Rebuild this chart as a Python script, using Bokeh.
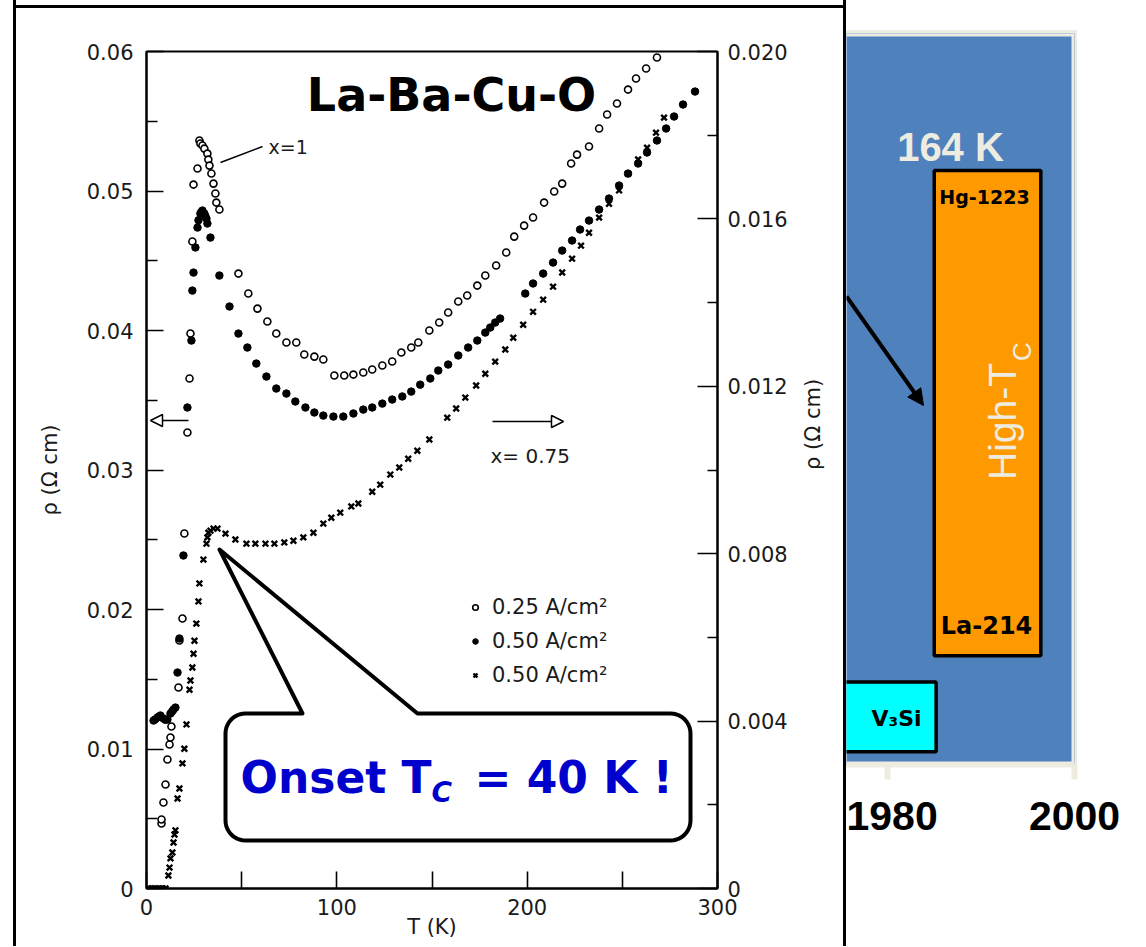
import math
from bokeh.plotting import figure
from bokeh.models import (Range1d, LinearAxis, FixedTicker, Label, Arrow, NormalHead,
                          BoxAnnotation, Legend, LegendItem, NumeralTickFormatter,
                          ColumnDataSource)
from bokeh.layouts import row
from bokeh.embed import file_html
from bokeh.resources import INLINE

# ---------------- data ----------------
# x = 1, 0.25 A/cm^2 (open circles, left scale): (T [K], rho [Ohm cm])
open_025 = [(7.9, 0.00466), (7.9, 0.00495), (8.9, 0.00616), (10.0, 0.00745), (11.0, 0.00925),
            (12.1, 0.01032), (12.6, 0.01082), (13.1, 0.01161), (16.8, 0.01441), (17.3, 0.01778),
            (18.9, 0.01935), (19.9, 0.02545), (21.5, 0.03269), (22.6, 0.03656), (23.1, 0.03978),
            (24.1, 0.04638), (24.7, 0.05046), (26.8, 0.05161), (27.8, 0.05362), (28.3, 0.05340),
            (29.4, 0.05326), (30.4, 0.05304), (32.0, 0.05268), (32.5, 0.05225), (33.1, 0.05182),
            (34.1, 0.05125), (35.2, 0.05053), (36.2, 0.04982), (36.7, 0.04917), (38.3, 0.04867),
            (48.3, 0.04408), (53.5, 0.04265), (58.3, 0.04157), (63.5, 0.04064), (68.2, 0.03978),
            (73.5, 0.03914), (78.7, 0.03914), (82.9, 0.03828), (88.2, 0.03813), (92.9, 0.03792),
            (98.7, 0.03677), (103.9, 0.03677), (108.7, 0.03684), (113.9, 0.03699), (118.6, 0.03720),
            (123.9, 0.03749), (129.1, 0.03778), (133.9, 0.03842), (139.1, 0.03878), (142.8, 0.03914),
            (148.6, 0.04000), (153.8, 0.04057), (158.5, 0.04129), (163.8, 0.04208), (168.5, 0.04251),
            (173.8, 0.04322), (178.0, 0.04394), (183.7, 0.04466), (189.0, 0.04559), (193.2, 0.04673),
            (198.4, 0.04752), (203.1, 0.04810), (208.9, 0.04917), (214.2, 0.04996), (218.4, 0.05053),
            (223.1, 0.05197), (226.2, 0.05261), (232.5, 0.05319), (237.8, 0.05448), (242.0, 0.05548),
            (247.2, 0.05627), (253.0, 0.05727), (257.2, 0.05806), (262.5, 0.05878), (268.2, 0.05957)]

# x = 1, 0.50 A/cm^2 (filled circles, left scale)
filled_050 = [(3.7, 0.01204), (4.5, 0.01212), (5.8, 0.01226), (6.5, 0.01232), (7.3, 0.01240),
              (8.9, 0.01219), (9.8, 0.01210), (11.0, 0.01211), (12.6, 0.01254), (13.5, 0.01270),
              (14.2, 0.01283), (15.2, 0.01297), (16.3, 0.01548), (17.3, 0.01792), (19.4, 0.02387),
              (21.5, 0.03448), (23.6, 0.03928), (24.1, 0.04286), (24.7, 0.04415), (25.7, 0.04595),
              (26.8, 0.04738), (27.3, 0.04790), (28.3, 0.04838), (28.8, 0.04850), (29.4, 0.04860),
              (30.4, 0.04838), (30.9, 0.04820), (31.5, 0.04802), (32.0, 0.04767), (33.6, 0.04666),
              (38.3, 0.04394), (43.6, 0.04172), (48.3, 0.03978), (53.0, 0.03878), (57.7, 0.03763),
              (63.0, 0.03670), (68.2, 0.03584), (73.5, 0.03548), (78.2, 0.03491), (83.5, 0.03448),
              (88.2, 0.03412), (92.9, 0.03390), (98.2, 0.03383), (103.4, 0.03383), (108.7, 0.03405),
              (113.9, 0.03433), (118.6, 0.03448), (123.9, 0.03476), (129.1, 0.03505), (134.4, 0.03527),
              (139.1, 0.03562), (143.8, 0.03612), (149.1, 0.03656), (153.3, 0.03713), (158.5, 0.03756),
              (163.8, 0.03821), (169.0, 0.03878), (173.8, 0.03928), (178.0, 0.03985), (180.6, 0.04021),
              (183.2, 0.04057), (185.8, 0.04086), (199.0, 0.04265), (203.1, 0.04337), (208.4, 0.04408),
              (213.6, 0.04487), (218.4, 0.04573), (223.6, 0.04645), (227.8, 0.04724), (232.5, 0.04788),
              (237.8, 0.04867), (243.0, 0.04946), (248.3, 0.05039), (253.0, 0.05125), (258.3, 0.05197),
              (263.0, 0.05276), (268.2, 0.05362), (273.0, 0.05448), (277.2, 0.05534), (281.9, 0.05620),
              (288.2, 0.05713)]

# x = 0.75, 0.50 A/cm^2 (crosses, right scale)
cross_075 = [(1.0, 0.0), (2.5, 0.0), (4.0, 0.0), (5.5, 0.0), (7.0, 0.0), (8.5, 0.0), (10.0, 0.0),
             (11.5, 0.00031), (12.1, 0.00050), (12.6, 0.00072), (13.6, 0.00086), (14.2, 0.00110),
             (14.7, 0.00129), (15.2, 0.00139), (16.3, 0.00215), (17.3, 0.00239), (18.9, 0.00299),
             (19.9, 0.00334), (21.0, 0.00392), (22.6, 0.00475), (23.1, 0.00497), (24.1, 0.00528),
             (24.7, 0.00561), (25.2, 0.00592), (26.2, 0.00633), (27.3, 0.00686), (27.8, 0.00729),
             (29.9, 0.00786), (31.5, 0.00824), (32.0, 0.00839), (32.5, 0.00850), (33.6, 0.00855),
             (35.2, 0.00860), (37.3, 0.00860), (41.5, 0.00848), (46.7, 0.00834), (52.5, 0.00824),
             (57.2, 0.00824), (62.5, 0.00824), (67.2, 0.00824), (72.4, 0.00827), (77.2, 0.00831),
             (82.4, 0.00839), (87.7, 0.00850), (92.9, 0.00872), (97.1, 0.00886), (101.8, 0.00898),
             (107.6, 0.00913), (111.3, 0.00920), (118.6, 0.00948), (122.8, 0.00965), (128.1, 0.00989),
             (132.8, 0.01006), (137.5, 0.01027), (142.3, 0.01046), (148.6, 0.01073), (158.0, 0.01125),
             (162.7, 0.01147), (167.5, 0.01173), (173.2, 0.01202), (178.0, 0.01230), (183.2, 0.01259),
             (188.5, 0.01288), (192.7, 0.01316), (197.9, 0.01347), (203.1, 0.01378), (208.4, 0.01407),
             (213.6, 0.01438), (218.4, 0.01472), (223.6, 0.01505), (228.3, 0.01536), (232.5, 0.01567),
             (237.8, 0.01603), (243.0, 0.01636), (248.3, 0.01668), (253.0, 0.01708), (258.3, 0.01742),
             (263.0, 0.01770), (267.7, 0.01806), (271.9, 0.01842)]

legend_labels = ["0.25 A/cm\u00b2", "0.50 A/cm\u00b2", "0.50 A/cm\u00b2"]

t_ticks = [0, 100, 200, 300]
t_minor = [50, 150, 250]
left_ticks = [0, 0.01, 0.02, 0.03, 0.04, 0.05, 0.06]
left_minor = [0.005, 0.015, 0.025, 0.035, 0.045, 0.055]
right_ticks = [0, 0.004, 0.008, 0.012, 0.016, 0.020]
right_minor = [0.002, 0.006, 0.010, 0.014, 0.018]

# timeline panel (year vs Tc in K)
bar_names = ["V\u2083Si", "High-Tc"]
bar_year_start = [1954.0, 1985.0]
bar_year_end = [1985.2, 1996.4]
bar_tc_low = [3.5, 30.0]
bar_tc_high = [22.8, 164.0]
bar_colors = ["#00FFFF", "#FF9900"]
year_ticks = [1980, 2000]

# ---------------- helpers: picture pixel -> data units (annotations only) -------------
def fx(px):
    return (px - 146) * 300.0 / 571.0

def fy(py):
    return (888 - py) * 0.06 / 837.0

def gx(px):
    return 1980 + (px - 887) / 9.35

def gy(py):
    return (764 - py) / 3.622

FONT = "DejaVu Sans"
H = 946
W1 = 846
W2 = 294

# ---------------- main figure ----------------
p = figure(width=W1, height=H, output_backend="svg", toolbar_location=None,
           x_range=Range1d(0, 300), y_range=Range1d(0, 0.06),
           min_border_left=146, min_border_right=W1 - 717, min_border_top=51,
           min_border_bottom=H - 888)
if "frame_align" in p.properties():
    p.frame_align = False
p.extra_y_ranges = {"right": Range1d(0, 0.02)}
p.grid.visible = False
p.outline_line_color = "black"
p.outline_line_width = 2
p.background_fill_color = "white"
p.border_fill_color = None
# black frame of the inset picture (left, top, right) painted behind the transparent canvas border
p.styles = {
    "background-image": "linear-gradient(#000,#000), linear-gradient(#000,#000), linear-gradient(#000,#000)",
    "background-position": "13px 0px, 13px 5px, 843px 0px",
    "background-size": "3px 100%, 833px 3px, 3px 100%",
    "background-repeat": "no-repeat",
}

xa = p.xaxis[0]
xa.ticker = FixedTicker(ticks=t_ticks, minor_ticks=t_minor)
ya = p.yaxis[0]
ya.ticker = FixedTicker(ticks=left_ticks, minor_ticks=left_minor)
ya.formatter = NumeralTickFormatter(format="0.00")
ya.major_label_overrides = {0: "0"}
ra = LinearAxis(y_range_name="right")
ra.ticker = FixedTicker(ticks=right_ticks, minor_ticks=right_minor)
ra.formatter = NumeralTickFormatter(format="0.000")
ra.major_label_overrides = {0: "0"}
p.add_layout(ra, "right")

for ax in (xa, ya, ra):
    ax.axis_line_color = "black"
    ax.axis_line_width = 2
    ax.major_tick_line_color = "black"
    ax.minor_tick_line_color = "black"
    ax.major_tick_line_width = 1.6
    ax.minor_tick_line_width = 1.6
    ax.major_tick_out = 0
    ax.minor_tick_out = 0
    ax.major_label_text_font = FONT
    ax.major_label_text_font_size = "21px"
    ax.major_label_text_color = "#1a1a1a"
    ax.axis_label_text_font = FONT
    ax.axis_label_text_font_size = "21px"
    ax.axis_label_text_font_style = "normal"
    ax.axis_label_text_color = "#1a1a1a"

xa.major_tick_in = 17
xa.minor_tick_in = 17
xa.major_label_standoff = 10
xa.axis_label = "T (K)"
xa.axis_label_standoff = -3

ya.major_tick_in = 17
ya.minor_tick_in = 11
ya.major_label_standoff = 13
ya.axis_label = "\u03c1 (\u03a9 cm)"
ya.axis_label_standoff = 22

ra.major_tick_in = 20
ra.minor_tick_in = 10
ra.major_label_standoff = 10
ra.axis_label = "\u03c1 (\u03a9 cm)"
ra.axis_label_standoff = 22
if "axis_label_orientation" in ra.properties():
    ra.axis_label_orientation = math.pi / 2   # read bottom-to-top like the left label

r_open = p.scatter([d[0] for d in open_025], [d[1] for d in open_025], marker="circle", size=7,
                   fill_color="white", line_color="black", line_width=1.6)
r_fill = p.scatter([d[0] for d in filled_050], [d[1] for d in filled_050], marker="circle", size=7.5,
                   fill_color="black", line_color="black", line_width=1)
r_cross = p.scatter([d[0] for d in cross_075], [d[1] for d in cross_075], marker="x", size=8,
                    line_color="black", line_width=2.4, y_range_name="right")

legend = Legend(items=[LegendItem(label=legend_labels[0], renderers=[r_open]),
                       LegendItem(label=legend_labels[1], renderers=[r_fill]),
                       LegendItem(label=legend_labels[2], renderers=[r_cross])],
                location=(322, 198), padding=0, margin=0, spacing=4,
                glyph_width=14, glyph_height=30, label_height=30, label_standoff=10,
                label_text_font=FONT, label_text_font_size="21px", label_text_color="#1a1a1a",
                border_line_color=None, background_fill_alpha=0)
p.add_layout(legend)

# text annotations of the original figure
p.add_layout(Label(x=fx(451), y=fy(94), text="La-Ba-Cu-O", text_align="center", text_baseline="middle",
                   text_font=FONT, text_font_style="bold", text_font_size="46px", text_color="black"))
p.add_layout(Label(x=fx(268), y=fy(146), text="x=1", text_align="left", text_baseline="middle",
                   text_font=FONT, text_font_size="19px", text_color="#1a1a1a"))
p.line([fx(220), fx(262)], [fy(162), fy(146)], line_color="black", line_width=1.5)
p.add_layout(Label(x=fx(490), y=fy(455), text="x= 0.75", text_align="left", text_baseline="middle",
                   text_font=FONT, text_font_size="20px", text_color="#1a1a1a"))
p.add_layout(Arrow(end=NormalHead(size=12, fill_color="white", line_color="black", line_width=1.5),
                   x_start=fx(188), y_start=fy(420), x_end=fx(150), y_end=fy(420),
                   line_color="black", line_width=1.5))
p.add_layout(Arrow(end=NormalHead(size=12, fill_color="white", line_color="black", line_width=1.5),
                   x_start=fx(492), y_start=fy(421), x_end=fx(563), y_end=fy(421),
                   line_color="black", line_width=1.5))

# callout bubble
def callout(L, R, T, B, r, base_l, base_r, tip, n=10):
    pts = [base_l, tip, base_r, (R - r, T)]
    def arc(cx, cy, a0, a1):
        return [(cx + r * math.cos(a0 + (a1 - a0) * i / n), cy + r * math.sin(a0 + (a1 - a0) * i / n))
                for i in range(n + 1)]
    pts += arc(R - r, T + r, -math.pi / 2, 0)
    pts += arc(R - r, B - r, 0, math.pi / 2)
    pts += arc(L + r, B - r, math.pi / 2, math.pi)
    pts += arc(L + r, T + r, math.pi, 1.5 * math.pi)
    return pts

bub = callout(225, 690, 713, 840, 20, (302, 713), (417, 713), (219, 549))
p.patch([fx(a) for a, b in bub], [fy(b) for a, b in bub], fill_color="white",
        line_color="black", line_width=4, line_join="round")

BLUE = "#0000CC"
p.add_layout(Label(x=fx(240), y=fy(777), text="Onset T", text_align="left", text_baseline="middle",
                   text_font=FONT, text_font_style="bold", text_font_size="44px", text_color=BLUE))
p.add_layout(Label(x=fx(431), y=fy(792), text="C", text_align="left", text_baseline="middle",
                   text_font=FONT, text_font_style="bold italic", text_font_size="28px", text_color=BLUE))
p.add_layout(Label(x=fx(474), y=fy(777), text="= 40 K !", text_align="left", text_baseline="middle",
                   text_font=FONT, text_font_style="bold", text_font_size="44px", text_color=BLUE))

# ---------------- timeline panel ----------------
GREY = "#EEECE1"
p2 = figure(width=W2, height=H, output_backend="svg", toolbar_location=None,
            x_range=Range1d(gx(846), gx(1074)), y_range=Range1d(0, gy(33)),
            min_border_left=0, min_border_right=W2 - 228, min_border_top=33,
            min_border_bottom=H - 764, y_axis_location=None)
if "frame_align" in p2.properties():
    p2.frame_align = False
p2.grid.visible = False
p2.background_fill_color = "#4F81BD"
p2.border_fill_color = None
p2.outline_line_color = None
# light frame parts lying just outside the plot area (top strip and right strip)
p2.styles = {
    "background-image": "linear-gradient(%s,%s), linear-gradient(%s,%s)" % (GREY, GREY, GREY, GREY),
    "background-position": "0px 30px, 228px 30px",
    "background-size": "231px 3px, 3px 738px",
    "background-repeat": "no-repeat",
}

x2 = p2.xaxis[0]
x2.ticker = FixedTicker(ticks=year_ticks, minor_ticks=[])
x2.axis_line_color = GREY
x2.axis_line_width = 6
x2.major_tick_line_color = GREY
x2.major_tick_line_width = 6
x2.major_tick_in = 0
x2.major_tick_out = 15
x2.minor_tick_line_color = None
x2.major_label_text_font = "Liberation Sans"
x2.major_label_text_font_style = "bold"
x2.major_label_text_font_size = "41px"
x2.major_label_text_color = "black"
x2.major_label_standoff = 22

src = ColumnDataSource(dict(left=bar_year_start, right=bar_year_end, bottom=bar_tc_low,
                            top=bar_tc_high, color=bar_colors, name=bar_names))
p2.quad(left="left", right="right", bottom="bottom", top="top", fill_color="color",
        line_color="black", line_width=3.5, source=src)

p2.add_layout(Arrow(end=NormalHead(size=16, fill_color="black", line_color="black"),
                    x_start=gx(846), y_start=gy(296), x_end=gx(923), y_end=gy(405),
                    line_color="black", line_width=4))

p2.add_layout(Label(x=gx(950), y=gy(146), text="164 K", text_align="center", text_baseline="middle",
                    text_font="Liberation Sans", text_font_style="bold", text_font_size="40px",
                    text_color=GREY))
p2.add_layout(Label(x=gx(984), y=gy(196), text="Hg-1223", text_align="center", text_baseline="middle",
                    text_font=FONT, text_font_style="bold", text_font_size="19px", text_color="black"))
p2.add_layout(Label(x=gx(986), y=gy(625), text="La-214", text_align="center", text_baseline="middle",
                    text_font=FONT, text_font_style="bold", text_font_size="24px", text_color="black"))
p2.add_layout(Label(x=gx(896), y=gy(718), text="V\u2083Si", text_align="center", text_baseline="middle",
                    text_font=FONT, text_font_style="bold", text_font_size="22px", text_color="black"))
p2.add_layout(Label(x=gx(1002), y=gy(421), text="High-T", text_align="center", text_baseline="middle",
                    angle=math.pi / 2, text_font="Liberation Sans", text_font_size="39px",
                    text_color=GREY))
p2.add_layout(Label(x=gx(1021), y=gy(351), text="C", text_align="center", text_baseline="middle",
                    angle=math.pi / 2, text_font="Liberation Sans", text_font_size="26px",
                    text_color=GREY))

# light frame parts lying just inside the plot area (top and right)
for l, r_, t, b in [(0, 228, 731, 728), (225, 228, 731, 0)]:
    p2.add_layout(BoxAnnotation(left=l, right=r_, top=t, bottom=b, left_units="screen",
                                right_units="screen", top_units="screen", bottom_units="screen",
                                fill_color=GREY, fill_alpha=1, line_color=None))

layout = row(p, p2)
open("out.html", "w").write(file_html(layout, INLINE))
